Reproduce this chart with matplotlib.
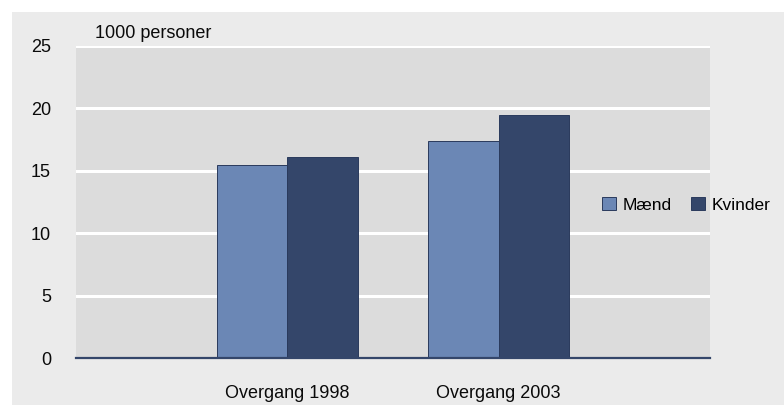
import matplotlib
matplotlib.use("Agg")
import matplotlib.pyplot as plt
from matplotlib.patches import Rectangle
import numpy as np

categories = ["Overgang 1998", "Overgang 2003"]
maend = [15.5, 17.4]
kvinder = [16.1, 19.5]
series_names = ["Mænd", "Kvinder"]
yticks = [0, 5, 10, 15, 20, 25]
unit_label = "1000 personer"

c_maend = "#6b87b5"
c_kvinder = "#34466a"
c_edge = "#2a3a5c"
c_plot = "#dcdcdc"
c_panel = "#ebebeb"

plt.rcParams["font.family"] = ["Liberation Sans", "DejaVu Sans"]
fs = 13

fig = plt.figure(figsize=(7.84, 4.05), dpi=100)
fig.patch.set_facecolor("white")
# light grey panel behind the chart
fig.patches.append(Rectangle((12 / 784, 0), 1, 1 - 12 / 405, transform=fig.transFigure,
                             facecolor=c_panel, edgecolor="none", zorder=-10))

ax = fig.add_axes([76 / 784, 1 - 358.3 / 405, 634 / 784, 312.3 / 405])
ax.set_facecolor(c_plot)

x = np.arange(1, len(categories) + 1)
w = 1 / 3
ax.bar(x - w / 2, maend, w, color=c_maend, edgecolor=c_edge, linewidth=0.7,
       label=series_names[0], zorder=3)
ax.bar(x + w / 2, kvinder, w, color=c_kvinder, edgecolor=c_edge, linewidth=0.7,
       label=series_names[1], zorder=3)

ax.set_xlim(0, len(categories) + 1)
ax.set_ylim(0, 25)
ax.set_yticks(yticks)
ax.set_yticklabels([str(t) for t in yticks], fontsize=fs, color="#0a0a0a")
ax.set_xticks(x)
ax.set_xticklabels(categories, fontsize=fs, color="#0a0a0a")
ax.tick_params(axis="y", length=0, pad=18)
ax.tick_params(axis="x", length=0, pad=19)
for s in ax.spines.values():
    s.set_visible(False)
ax.yaxis.grid(True, color="white", linewidth=2.2, zorder=1)
ax.set_axisbelow(True)
ax.axhline(0, color=c_kvinder, linewidth=1.6, zorder=4, clip_on=False)

ax.text(95 / 784, 1 - 38 / 405, unit_label, transform=fig.transFigure,
        fontsize=fs, va="baseline", ha="left", color="#0a0a0a")

leg = ax.legend(loc="center left", bbox_to_anchor=(0.805, 0.491), ncol=2,
                fontsize=12.5, frameon=True, fancybox=False, handlelength=0.8,
                handleheight=0.8, handletextpad=0.4, columnspacing=1.1,
                borderpad=0.9, borderaxespad=0)
fr = leg.get_frame()
fr.set_facecolor(c_plot)
fr.set_edgecolor("none")
fr.set_alpha(1)
fr.set_clip_box(ax.bbox)
fr.set_clip_on(True)

fig.savefig("out.png", dpi=100, facecolor=fig.get_facecolor())
